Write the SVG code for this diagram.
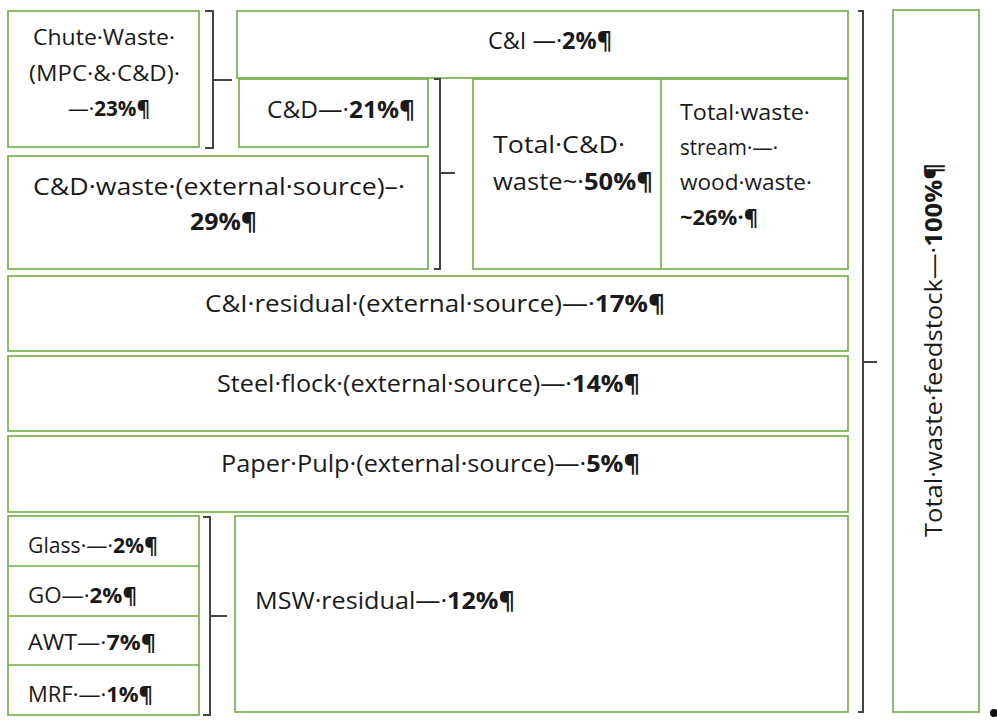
<svg xmlns="http://www.w3.org/2000/svg" width="997" height="727" viewBox="0 0 997 727">
<style>
.box{fill:#fff;stroke:#70ad47;stroke-width:1.6}
.div{stroke:#70ad47;stroke-width:1.6;fill:none}
.br{fill:none;stroke:#444;stroke-width:2}
text{font-family:"Open Sans","Liberation Sans",sans-serif;font-size:24px;fill:#1a1a1a}
.s{font-size:21px}
.b{font-weight:bold}
</style>
<rect width="997" height="727" fill="#fff"/>
<g id="chute"><rect class="box" x="8" y="11" width="191" height="136"/>
<text class="s" x="33" y="45" textLength="142" lengthAdjust="spacingAndGlyphs">Chute·Waste·</text>
<text class="s" x="29" y="81" textLength="151" lengthAdjust="spacingAndGlyphs">(MPC·&amp;·C&amp;D)·</text>
<text class="s" x="68" y="116" textLength="82" lengthAdjust="spacingAndGlyphs">—·<tspan class="b">23%¶</tspan></text></g>
<g id="ci"><rect class="box" x="237" y="11" width="611" height="67"/>
<text x="488" y="49" textLength="124" lengthAdjust="spacingAndGlyphs">C&amp;I —·<tspan class="b">2%¶</tspan></text></g>
<g id="cd"><rect class="box" x="239" y="79" width="189" height="68"/>
<text x="267" y="118" textLength="148" lengthAdjust="spacingAndGlyphs">C&amp;D—·<tspan class="b">21%¶</tspan></text></g>
<g id="cdext"><rect class="box" x="8" y="156" width="420" height="113"/>
<text x="33" y="195" textLength="372" lengthAdjust="spacingAndGlyphs">C&amp;D·waste·(external·source)–·</text>
<text class="b" x="190" y="230" textLength="67" lengthAdjust="spacingAndGlyphs">29%¶</text></g>
<g id="totalcd"><rect class="box" x="473" y="79" width="375" height="190"/>
<line class="div" x1="661" y1="79" x2="661" y2="269"/>
<text x="493" y="153" textLength="132" lengthAdjust="spacingAndGlyphs">Total·C&amp;D·</text>
<text x="493" y="190" textLength="160" lengthAdjust="spacingAndGlyphs">waste~·<tspan class="b">50%¶</tspan></text>
<text class="s" x="680" y="120" textLength="130" lengthAdjust="spacingAndGlyphs">Total·waste·</text>
<text class="s" x="680" y="155" textLength="98" lengthAdjust="spacingAndGlyphs">stream·—·</text>
<text class="s" x="680" y="190" textLength="132" lengthAdjust="spacingAndGlyphs">wood·waste·</text>
<text class="s b" x="680" y="225" textLength="78" lengthAdjust="spacingAndGlyphs">~26%·¶</text></g>
<g id="cires"><rect class="box" x="8" y="276" width="840" height="75"/>
<text x="205" y="312" textLength="460" lengthAdjust="spacingAndGlyphs">C&amp;I·residual·(external·source)—·<tspan class="b">17%¶</tspan></text></g>
<g id="steel"><rect class="box" x="8" y="356" width="840" height="75"/>
<text x="217" y="392" textLength="423" lengthAdjust="spacingAndGlyphs">Steel·flock·(external·source)—·<tspan class="b">14%¶</tspan></text></g>
<g id="paper"><rect class="box" x="8" y="436" width="840" height="76"/>
<text x="221" y="472" textLength="419" lengthAdjust="spacingAndGlyphs">Paper·Pulp·(external·source)—·<tspan class="b">5%¶</tspan></text></g>
<g id="small"><rect class="box" x="8" y="516" width="191" height="199"/>
<line class="div" x1="8" y1="566" x2="199" y2="566"/>
<line class="div" x1="8" y1="616" x2="199" y2="616"/>
<line class="div" x1="8" y1="665" x2="199" y2="665"/>
<text class="s" x="28" y="553" textLength="130" lengthAdjust="spacingAndGlyphs">Glass·—·<tspan class="b">2%¶</tspan></text>
<text class="s" x="28" y="603" textLength="109" lengthAdjust="spacingAndGlyphs">GO—·<tspan class="b">2%¶</tspan></text>
<text class="s" x="28" y="650" textLength="128" lengthAdjust="spacingAndGlyphs">AWT—·<tspan class="b">7%¶</tspan></text>
<text class="s" x="28" y="702" textLength="125" lengthAdjust="spacingAndGlyphs">MRF·—·<tspan class="b">1%¶</tspan></text></g>
<g id="msw"><rect class="box" x="235" y="516" width="613" height="196"/>
<text x="255" y="609" textLength="260" lengthAdjust="spacingAndGlyphs">MSW·residual—·<tspan class="b">12%¶</tspan></text></g>
<g id="total"><rect class="box" x="893" y="10" width="86" height="702"/>
<text font-size="26" transform="translate(942,537) rotate(-90)" textLength="374" lengthAdjust="spacingAndGlyphs">Total·waste·feedstock—·<tspan class="b">100%¶</tspan></text></g>
<g id="connectors">
<path class="br" d="M205,11 h8 v137 h-8 M213,80 h19"/>
<path class="br" d="M434,79 h6 v190 h-6 M440,173 h15"/>
<path class="br" d="M858,11 h5 v701 h-5 M863,362 h14"/>
<path class="br" d="M203,517 h7 v198 h-7 M210,616 h17"/>
</g>
<circle cx="994" cy="713" r="4" fill="#111"/>
</svg>
